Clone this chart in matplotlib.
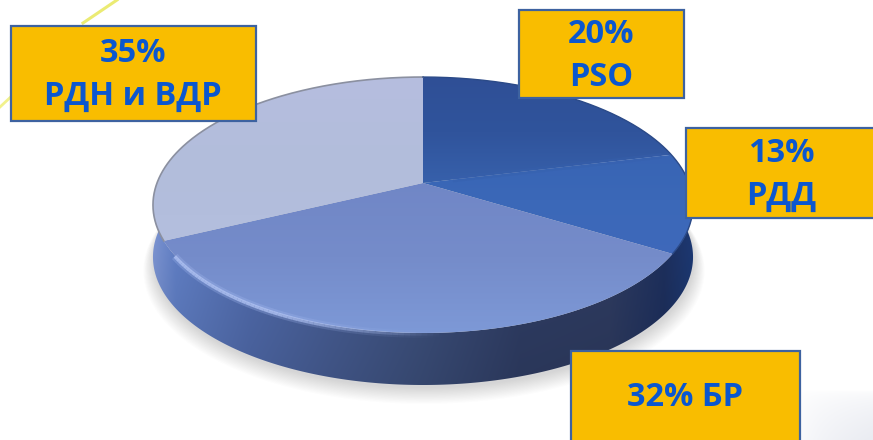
import numpy as np
import matplotlib
matplotlib.use("Agg")
import matplotlib.pyplot as plt
from matplotlib.colors import LinearSegmentedColormap, to_rgb
from matplotlib.patches import Polygon, Rectangle

plt.rcParams['font.family'] = ['Open Sans', 'DejaVu Sans']

# chart data, clockwise from the top of the pie
labels = ["PSO", "РДД", "БР", "РДН и ВДР"]
values = [20, 13, 32, 35]
box_texts = ["20%\nPSO", "13%\nРДД", "32% БР", "35%\nРДН и ВДР"]
# the slices in the picture are not quite the printed percentages, these are read off the disc
drawn_shares = [21.2, 12.5, 34.2, 32.1]

slice_grads = [["#2f4f96", "#30549c", "#3862ad"],
               ["#3763b2", "#3b68b8", "#3f69bb"],
               ["#7086c6", "#758cca", "#7e9ad8"],
               ["#b6bedf", "#b2bddb", "#b4bfdf"]]

fig = plt.figure(figsize=(8.73, 4.40), dpi=100)
ax = fig.add_axes([0, 0, 1, 1])
ax.set_xlim(0, 873)
ax.set_ylim(440, 0)
ax.axis("off")

# disc geometry in pixels, tilted so the front looks nearer
cx, cy = 423, 183
A, B, K = 266, 124.2, 0.172
depth = 52


def project(theta):
    # theta is clockwise from the top
    x = np.sin(theta)
    y = np.cos(theta)
    d = 1 + K * y
    return cx + A * x / d, cy - B * y / d


def grad_fill(poly_xy, colors, extent, z=2):
    poly = Polygon(poly_xy, closed=True, facecolor="none", edgecolor="none", transform=ax.transData)
    ax.add_patch(poly)
    cmap = LinearSegmentedColormap.from_list("g", colors)
    g = np.linspace(0, 1, 256).reshape(-1, 1)
    im = ax.imshow(g, cmap=cmap, extent=extent, aspect="auto", zorder=z, interpolation="bilinear")
    im.set_clip_path(poly)
    ax.set_xlim(0, 873)
    ax.set_ylim(440, 0)


# faint background bits
ax.plot([0, 30], [107, 79], color="#eeee70", lw=2, alpha=0.8, zorder=1)
ax.plot([83, 117], [23, 0], color="#e6e650", lw=2.2, alpha=0.8, zorder=1)
corner = np.sqrt(np.linspace(0, 1, 64).reshape(-1, 1) * np.linspace(0, 1, 64).reshape(1, -1))
corner_cmap = LinearSegmentedColormap.from_list("c", ["#ffffff", "#eaecf2"])
ax.imshow(corner, cmap=corner_cmap, extent=(795, 873, 440, 390), aspect="auto", zorder=0)
ax.set_xlim(0, 873)
ax.set_ylim(440, 0)

# outline of the disc
t = np.linspace(0, 2 * np.pi, 721)
ex, ey = project(t)

# soft shadow under the disc
mx, my = ex.mean(), ey.mean() + depth
for i in range(14):
    s = 1 + i * 0.003
    ax.add_patch(Polygon(np.c_[mx + (ex - ex.mean()) * s + 1, my + (ey - ey.mean()) * s + 3 + i * 0.8],
                         facecolor="#55555a", edgecolor="none", alpha=0.014, zorder=1.5))

# side wall of the disc, front half only
front = np.cos(t) < 0.12
fx, fy = ex[front], ey[front]
wall = np.r_[np.c_[fx, fy], np.c_[fx[::-1], fy[::-1] + depth]]
wall_poly = Polygon(wall, closed=True, facecolor="none", edgecolor="none")
ax.add_patch(wall_poly)
stops_x = [150, 175, 250, 330, 420, 520, 610, 665, 695]
stops_c = ["#7d94d0", "#5f7dc2", "#4f69a9", "#465c92", "#3c4f7b", "#2f3d64", "#2e3b60", "#1d2f5c", "#1c3872"]
xs = np.linspace(150, 696, 300)
ys = np.linspace(0, 1, 60)
stop_rgb = np.array([to_rgb(c) for c in stops_c])
wall_img = np.zeros((len(ys), len(xs), 3))
for ch in range(3):
    wall_img[:, :, ch] = np.interp(xs, stops_x, stop_rgb[:, ch])
wall_img = wall_img * (1.03 - 0.14 * ys[:, None, None])
wall_img = np.clip(wall_img, 0, 1)
im = ax.imshow(wall_img, extent=(150, 696, 392, 210), aspect="auto", zorder=2, interpolation="bilinear")
im.set_clip_path(wall_poly)
ax.set_xlim(0, 873)
ax.set_ylim(440, 0)

# top face, slices built from the shares
edges = np.radians(np.r_[0, np.cumsum(drawn_shares)] / np.sum(drawn_shares) * 360)
extents = [(410, 700, 190, 75), (410, 700, 260, 140), (150, 700, 340, 175), (150, 430, 262, 75)]
for i in range(len(drawn_shares)):
    arc = np.linspace(edges[i], edges[i + 1], 200)
    px, py = project(arc)
    poly_xy = np.r_[[[cx, cy]], np.c_[px, py]]
    grad_fill(poly_xy, slice_grads[i], extents[i], z=3)

# soft seam between the two dark slices, stops short of the apex and the rim
sx, sy = project(edges[1])
ax.plot([cx + 0.12 * (sx - cx), cx + 0.96 * (sx - cx)], [cy + 0.12 * (sy - cy), cy + 0.96 * (sy - cy)],
        color="#3660ad", lw=4, alpha=0.4, zorder=3.5, solid_capstyle="butt")

# rim lines and highlight
arc = np.linspace(edges[3], 2 * np.pi, 200)
px, py = project(arc)
ax.plot(px, py, color="#8b90a0", lw=1.2, zorder=4)
arc = np.linspace(0, edges[2], 200)
px, py = project(arc)
ax.plot(px, py, color="#2b4a88", lw=1.0, zorder=4)
# highlight fades towards the middle of the front edge
arc = np.radians(np.linspace(176, 238, 60))
px, py = project(arc)
for j in range(len(arc) - 1):
    fade = min(1, j / 30)
    ax.plot(px[j:j + 2], py[j:j + 2] + 1, color="#a3b8ee", lw=5.5, alpha=0.3 * fade, zorder=4, solid_capstyle="butt")
    ax.plot(px[j:j + 2], py[j:j + 2] + 1, color="#aec1f2", lw=2.4, alpha=0.8 * fade, zorder=4, solid_capstyle="butt")

# label boxes
box_pos = [(519, 10, 165, 88), (686, 128, 190, 90), (571, 351, 229, 92), (11, 26, 245, 95)]
text_pos = [(601, 56), (781, 175), (685, 397), (133, 75)]
for i in range(len(labels)):
    x0, y0, w, h = box_pos[i]
    ax.add_patch(Rectangle((x0, y0), w, h, facecolor="#f9bd00", edgecolor="#3d62a0", lw=1.6, zorder=6))
    ax.text(text_pos[i][0], text_pos[i][1], box_texts[i], color="#0b57cf", fontsize=23.5, fontweight="bold",
            ha="center", va="center", linespacing=1.37, zorder=7)

fig.savefig("out.png", dpi=100)
